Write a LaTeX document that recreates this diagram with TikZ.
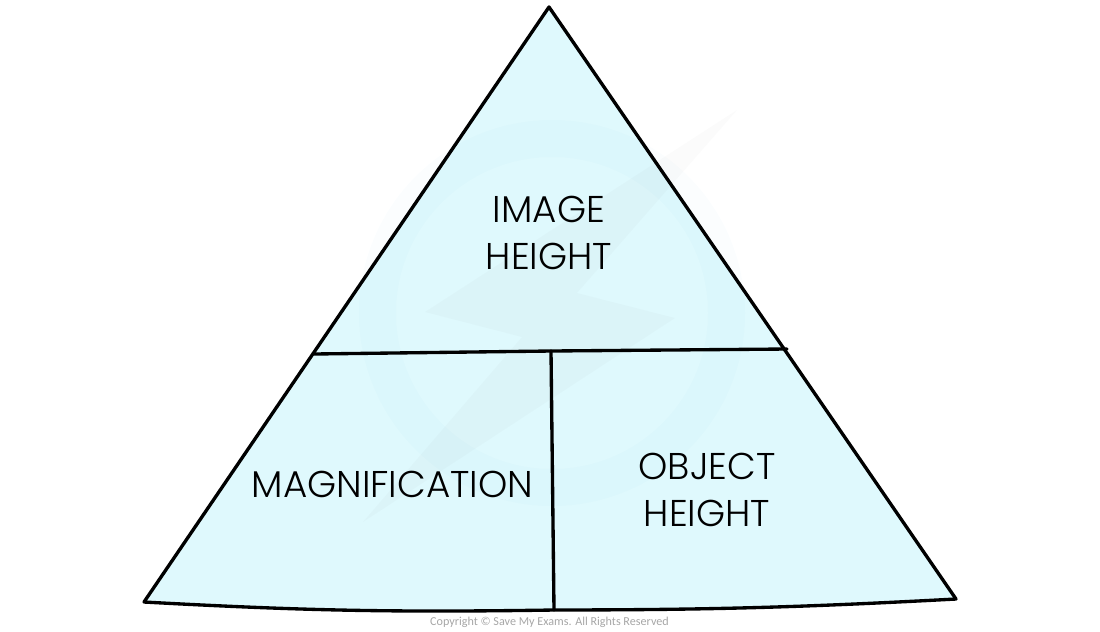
\documentclass[tikz,border=0pt]{standalone}
\usepackage{fontspec}
\usepackage{tikz}
\newfontfamily\labelfont{Poppins Light}
\newfontfamily\copyfont{Carlito}
\definecolor{paleblue}{HTML}{DFF9FD}
\tikzset{
    labeltext/.style={font=\labelfont\fontsize{10.6}{13.2}\selectfont, align=center, text=black},
    copytext/.style={font=\copyfont\fontsize{3.45}{4}\selectfont, text=black!35},
    edge/.style={line width=0.95pt, line cap=round, line join=round}
}
\begin{document}
\begin{tikzpicture}
        \useasboundingbox (0, 0) rectangle (11, 6.31);
        \coordinate (A1) at (1.44, 0.29);
        \coordinate (A2) at (9.56, 0.32);
        \coordinate (A3) at (5.49, 6.24);
        \coordinate (B1) at (3.14, 2.77);
        \coordinate (B2) at (7.87, 2.82);
        \coordinate (C1) at (5.51, 2.80);
        \coordinate (C2) at (5.54, 0.21);
        \fill[paleblue] (A1) to[bend right=2] (C2) to[bend right=1.5] (A2) -- (A3) -- cycle;
        % faint mark behind the labels
        \fill[cyan!80!blue, opacity=0.015, even odd rule] (5.52, 3.18) circle (1.93) (5.52, 3.18) circle (1.56);
        \fill[black!50, opacity=0.035] (7.37, 5.21) -- (4.25, 3.19) -- (5.22, 2.94) -- (3.63, 1.09) -- (6.75, 3.13) -- (5.77, 3.38) -- cycle;
        \draw[edge] (A1) to[bend right=2] (C2) to[bend right=1.5] (A2) -- (A3) -- cycle;
        \draw[edge] (B1) -- (C1) -- (B2);
        \draw[edge] (C1) -- (C2);
        \node[labeltext] (top) at (5.49, 3.98) {IMAGE\\HEIGHT};
        \node[labeltext] (left) at (3.925, 1.47) {MAGNIFICATION};
        \node[labeltext] (right) at (7.07, 1.41) {OBJECT\\HEIGHT};
        \node[copytext] (copy) at (5.495, 0.09) {Copyright © Save My Exams. All Rights Reserved};
    \end{tikzpicture}
\end{document}
